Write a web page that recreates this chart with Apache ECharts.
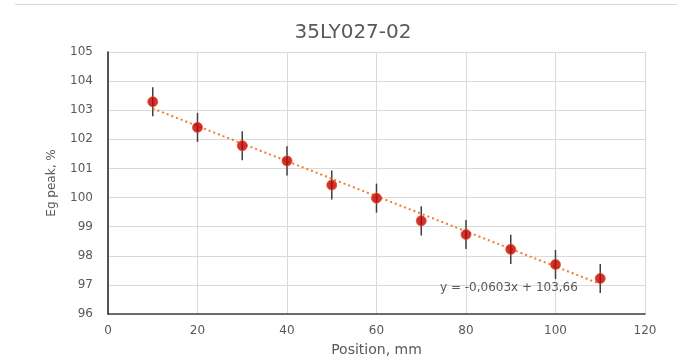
<!DOCTYPE html>
<html><head><meta charset="utf-8">
<script src="https://cdn.jsdelivr.net/npm/echarts@6/dist/echarts.min.js"></script>
<style>html,body{margin:0;padding:0;background:#fff}#c{width:677px;height:362px}</style>
</head><body><div id="c"></div>
<script>
const titleText = '35LY027-02';
const positions = [10, 20, 30, 40, 50, 60, 70, 80, 90, 100, 110];
const egPeak = [103.29, 102.41, 101.78, 101.26, 100.43, 99.98, 99.20, 98.73, 98.22, 97.70, 97.22];
const errors = [0.5, 0.5, 0.5, 0.5, 0.5, 0.5, 0.5, 0.5, 0.5, 0.5, 0.5];
const trendX = [10, 110];
const trendY = [103.06, 97.03];
const equationText = 'y = -0,0603x + 103,66';
const xTicks = [0, 20, 40, 60, 80, 100, 120];
const yTicks = [96, 97, 98, 99, 100, 101, 102, 103, 104, 105];

const font = '"DejaVu Sans", sans-serif';
const chart = echarts.init(document.getElementById('c'));
chart.setOption({
  animation: false,
  backgroundColor: '#fff',
  title: {
    text: titleText, left: 348, top: 18, textAlign: 'center',
    textStyle: { fontFamily: font, fontSize: 20, fontWeight: 'normal', color: '#595959' }
  },
  grid: { left: 108, right: 32, top: 52, bottom: 44 },
  xAxis: {
    type: 'value', min: xTicks[0], max: xTicks[xTicks.length - 1], interval: 20,
    name: 'Position, mm', nameLocation: 'middle', nameGap: 29,
    nameTextStyle: { fontFamily: font, fontSize: 14, color: '#595959' },
    axisLine: { show: true, onZero: false, lineStyle: { color: '#404040', width: 1.5 } },
    axisTick: { show: false },
    axisLabel: { margin: 11, fontFamily: font, fontSize: 12, color: '#595959' },
    splitLine: { show: true, lineStyle: { color: '#D9D9D9' } }
  },
  yAxis: {
    type: 'value', min: yTicks[0], max: yTicks[yTicks.length - 1], interval: 1,
    name: 'Eg peak, %', nameLocation: 'middle', nameGap: 50,
    nameTextStyle: { fontFamily: font, fontSize: 12, color: '#595959' },
    axisLine: { show: true, onZero: false, lineStyle: { color: '#202020', width: 1.5 } },
    axisTick: { show: false },
    axisLabel: { margin: 15, fontFamily: font, fontSize: 12, color: '#595959' },
    splitLine: { show: true, lineStyle: { color: '#D9D9D9' } }
  },
  graphic: [
    { type: 'line', shape: { x1: 15, y1: 4.5, x2: 677, y2: 4.5 }, style: { stroke: '#D9D9D9', lineWidth: 1 } },
    { type: 'text', left: 440, top: 282, style: { text: equationText, font: '12px ' + font, fill: '#595959' }, z: 10 }
  ],
  series: [
    {
      type: 'custom', z: 2,
      data: positions.map((x, i) => [x, egPeak[i] - errors[i], egPeak[i] + errors[i]]),
      renderItem: function (params, api) {
        const lo = api.coord([api.value(0), api.value(1)]);
        const hi = api.coord([api.value(0), api.value(2)]);
        return { type: 'line', shape: { x1: lo[0], y1: lo[1], x2: hi[0], y2: hi[1] },
          style: { stroke: '#404040', lineWidth: 1.5 } };
      }
    },
    {
      type: 'line', z: 3, symbol: 'none', silent: true,
      data: trendX.map((x, i) => [x, trendY[i]]),
      lineStyle: { color: '#ED7D31', width: 2, type: [2, 3] }
    },
    {
      type: 'scatter', z: 4, symbol: 'circle', symbolSize: 10,
      data: positions.map((x, i) => [x, egPeak[i]]),
      itemStyle: { color: '#C00000', borderColor: '#E8501E', borderWidth: 1 }
    }
  ]
});
</script></body></html>
